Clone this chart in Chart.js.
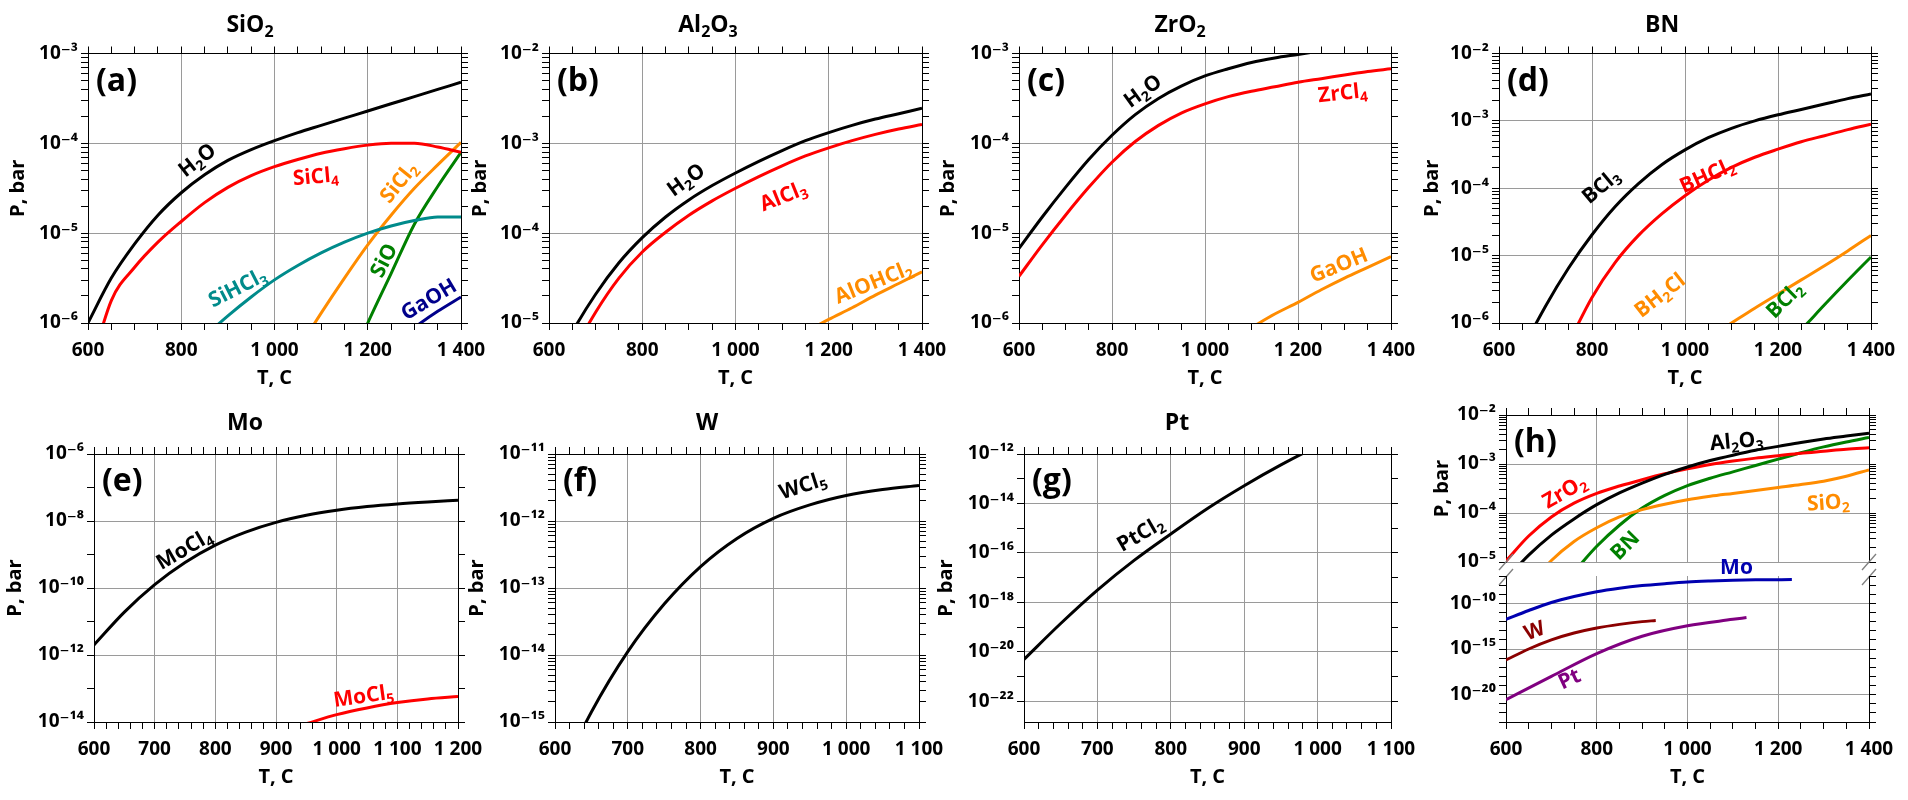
<!DOCTYPE html>
<html>
<head>
<meta charset="utf-8">
<script src="https://cdn.jsdelivr.net/npm/chart.js@4.4.1/dist/chart.umd.min.js"></script>
<style>
  html, body { margin: 0; padding: 0; background: #fff; }
  #fig { position: relative; width: 1908px; height: 800px; }
  #fig canvas { position: absolute; left: 0; top: 0; }
</style>
</head>
<body>
<div id="fig"></div>
<script>
// temperatures, C
const tempAD = [600, 650, 700, 750, 800, 850, 900, 950, 1000, 1050, 1100, 1150, 1200, 1250, 1300, 1350, 1400];
const tempE = [600, 650, 700, 750, 800, 850, 900, 950, 1000, 1050, 1100, 1150, 1200];
const tempFG = [600, 650, 700, 750, 800, 850, 900, 950, 1000, 1050, 1100];

// all pressures below are log10(P, bar)
// (a) SiO2
const sio2_H2O    = [-6.0, -5.5, -5.12, -4.8, -4.55, -4.35, -4.19, -4.07, -3.97, -3.88, -3.8, -3.72, -3.64, -3.56, -3.48, -3.4, -3.32];
const sio2_SiCl4  = [-6.6, -5.75, -5.38, -5.1, -4.87, -4.66, -4.49, -4.36, -4.26, -4.18, -4.11, -4.06, -4.02, -4.0, -4.0, -4.04, -4.1];
const sio2_SiHCl3 = [null, null, null, null, null, -6.15, -5.92, -5.71, -5.52, -5.36, -5.22, -5.1, -5.0, -4.92, -4.86, -4.82, -4.82];
const sio2_SiCl2  = [null, null, null, null, null, null, null, null, null, -6.3, -5.89, -5.5, -5.13, -4.8, -4.5, -4.24, -3.99];
const sio2_SiO    = [null, null, null, null, null, null, null, null, null, null, null, -6.6, -6.0, -5.45, -4.9, -4.48, -4.1];
const sio2_GaOH   = [null, null, null, null, null, null, null, null, null, null, null, null, null, -6.25, -6.05, -5.87, -5.71];

// (b) Al2O3
const al2o3_H2O     = [-5.6, -5.1, -4.68, -4.33, -4.05, -3.82, -3.63, -3.47, -3.33, -3.2, -3.08, -2.97, -2.88, -2.8, -2.73, -2.67, -2.61];
const al2o3_AlCl3   = [-5.95, -5.35, -4.88, -4.5, -4.21, -3.99, -3.8, -3.64, -3.5, -3.37, -3.25, -3.14, -3.05, -2.97, -2.9, -2.84, -2.79];
const al2o3_AlOHCl2 = [null, null, null, null, null, null, null, null, null, null, null, -5.1, -4.96, -4.83, -4.69, -4.56, -4.43];

// (c) ZrO2
const zro2_H2O   = [-5.17, -4.82, -4.49, -4.18, -3.91, -3.68, -3.5, -3.36, -3.25, -3.17, -3.1, -3.05, -3.01, -2.97, -2.93, -2.9, -2.87];
const zro2_ZrCl4 = [-5.48, -5.13, -4.8, -4.49, -4.21, -3.98, -3.8, -3.66, -3.56, -3.48, -3.42, -3.37, -3.32, -3.28, -3.24, -3.2, -3.17];
const zro2_GaOH  = [null, null, null, null, null, null, null, null, null, -6.2, -6.05, -5.9, -5.77, -5.63, -5.5, -5.38, -5.26];

// (d) BN
const bn_BCl3  = [-7.1, -6.4, -5.75, -5.18, -4.69, -4.27, -3.93, -3.65, -3.43, -3.25, -3.11, -3.0, -2.91, -2.83, -2.75, -2.67, -2.6];
const bn_BHCl2 = [null, null, -7.05, -6.3, -5.62, -5.1, -4.7, -4.38, -4.11, -3.88, -3.69, -3.54, -3.42, -3.31, -3.22, -3.13, -3.05];
const bn_BH2Cl = [null, null, null, null, null, null, null, null, null, -6.22, -6.0, -5.78, -5.57, -5.36, -5.15, -4.93, -4.7];
const bn_BCl2  = [null, null, null, null, null, null, null, null, null, null, null, null, -6.45, -6.1, -5.73, -5.37, -5.02];

// (e) Mo, (f) W, (g) Pt
const mo_MoCl4 = [-11.7, -10.72, -9.9, -9.24, -8.72, -8.33, -8.04, -7.83, -7.68, -7.57, -7.49, -7.43, -7.38];
const mo_MoCl5 = [null, null, null, null, null, null, null, -14.05, -13.78, -13.58, -13.42, -13.31, -13.24];
const w_WCl5   = [-15.95, -14.85, -13.95, -13.24, -12.68, -12.26, -11.96, -11.76, -11.62, -11.53, -11.47];
const pt_PtCl2 = [-20.3, -18.85, -17.5, -16.3, -15.23, -14.2, -13.28, -12.44, -11.68, -11.0, -10.4];

// (h) totals
const tot_Al2O3 = [-5.35, -4.86, -4.45, -4.12, -3.83, -3.59, -3.39, -3.21, -3.06, -2.93, -2.82, -2.72, -2.64, -2.56, -2.49, -2.43, -2.37];
const tot_ZrO2  = [-4.98, -4.47, -4.08, -3.8, -3.6, -3.45, -3.32, -3.2, -3.1, -3.01, -2.94, -2.88, -2.83, -2.78, -2.74, -2.7, -2.67];
const tot_BN    = [null, null, null, -5.2, -4.68, -4.25, -3.9, -3.64, -3.44, -3.29, -3.16, -3.03, -2.9, -2.77, -2.65, -2.55, -2.46];
const tot_SiO2  = [null, -5.5, -4.97, -4.58, -4.3, -4.08, -3.93, -3.82, -3.73, -3.66, -3.6, -3.54, -3.48, -3.42, -3.35, -3.25, -3.12];
const tempMo = [600, 650, 700, 750, 800, 850, 900, 950, 1000, 1050, 1100, 1150, 1200, 1230];
const tot_Mo = [-11.75, -10.78, -9.9, -9.25, -8.72, -8.34, -8.05, -7.84, -7.66, -7.55, -7.47, -7.42, -7.4, -7.39];
const tempW = [600, 650, 700, 750, 800, 850, 900, 930];
const tot_W = [-16.2, -15.0, -14.0, -13.25, -12.7, -12.3, -12.0, -11.88];
const tempPt = [600, 700, 800, 900, 1000, 1100, 1130];
const tot_Pt = [-20.55, -18.0, -15.5, -13.6, -12.45, -11.75, -11.55];

// tick labels
const xMajor200 = [600, 800, 1000, 1200, 1400];
const xMajorE = [600, 700, 800, 900, 1000, 1100, 1200];
const xMajorFG = [600, 700, 800, 900, 1000, 1100];
const yMajA = [-6, -5, -4, -3];
const yMajB = [-5, -4, -3, -2];
const yMajC = [-6, -5, -4, -3];
const yMajD = [-6, -5, -4, -3, -2];
const yMajE = [-14, -12, -10, -8, -6];
const yMajF = [-15, -14, -13, -12, -11];
const yMajG = [-22, -20, -18, -16, -14, -12];
const yMajHU = [-5, -4, -3, -2];
const yMajHL = [-20, -15, -10];

const W = 1908, H = 800;
const FONT = "'Open Sans', 'DejaVu Sans', sans-serif";
const GRID = '#9a9a9a';
const SUP = { '-': '\u207B', '0': '\u2070', '1': '\u00B9', '2': '\u00B2', '3': '\u00B3', '4': '\u2074',
              '5': '\u2075', '6': '\u2076', '7': '\u2077', '8': '\u2078', '9': '\u2079' };
const sup = n => String(n).split('').map(c => SUP[c]).join('');
const fmtT = v => v >= 1000 ? Math.floor(v / 1000) + ' ' + String(v % 1000).padStart(3, '0') : String(v);
const isMajExp = (v, exps) => exps.some(e => Math.abs(Math.log10(v) - e) < 1e-6);
const pts = (T, lg) => T.map((t, i) => lg[i] == null ? null : { x: t, y: Math.pow(10, lg[i]) }).filter(Boolean);

function xTicks(min, max, step) {
  const a = [];
  for (let v = min; v <= max; v += step) a.push({ value: v });
  return a;
}
function yTicks(lo, hi, mode) {
  const a = [];
  const ks = mode === 'sub' ? [1, 2, 3, 4, 5, 6, 7, 8, 9] : [1];
  for (let e = Math.floor(lo); e <= Math.ceil(hi); e++) {
    ks.forEach(k => {
      const v = k * Math.pow(10, e), l = Math.log10(v);
      if (l >= lo - 1e-9 && l <= hi + 1e-9) a.push({ value: v });
    });
  }
  return a;
}
const zeroPad = s => { s.paddingLeft = s.paddingRight = s.paddingTop = s.paddingBottom = 0; };

function richText(ctx, text, cx, cy, size, color) {
  const parts = text.split(/(_\d)/).filter(Boolean)
    .map(s => s[0] === '_' ? { t: s.slice(1), sub: true } : { t: s, sub: false });
  const fN = 'bold ' + size + 'px ' + FONT, fS = 'bold ' + Math.round(size * 0.68) + 'px ' + FONT;
  let w = 0;
  parts.forEach(q => { ctx.font = q.sub ? fS : fN; q.w = ctx.measureText(q.t).width; w += q.w; });
  let x = cx - w / 2;
  const base = cy + size * 0.36;
  ctx.fillStyle = color; ctx.textAlign = 'left'; ctx.textBaseline = 'alphabetic';
  parts.forEach(q => {
    ctx.font = q.sub ? fS : fN;
    ctx.fillText(q.t, x, q.sub ? base + size * 0.2 : base);
    x += q.w;
  });
}

function makeDecor(p) {
  return {
    id: 'decor',
    afterDraw(chart) {
      const ctx = chart.ctx, a = chart.chartArea, sx = chart.scales.x, sy = chart.scales.y;
      ctx.save();
      if (p.title) richText(ctx, p.title, p.titleAt[0], p.titleAt[1], 23, '#000');
      if (p.letter) {
        ctx.font = 'bold 32px ' + FONT; ctx.fillStyle = '#000';
        ctx.textAlign = 'left'; ctx.textBaseline = 'middle';
        ctx.fillText(p.letter, a.left + 8, a.top + 28);
      }
      (p.labels || []).forEach(l => {
        ctx.save();
        ctx.translate(sx.getPixelForValue(l.T), sy.getPixelForValue(Math.pow(10, l.lg)));
        ctx.rotate(l.rot * Math.PI / 180);
        richText(ctx, l.text, 0, 0, 21, l.color);
        ctx.restore();
      });
      if (p.breaks) {
        ctx.strokeStyle = '#808080'; ctx.lineWidth = 1.3;
        [a.left, a.right].forEach(bx => [a.bottom, a.bottom + 15].forEach(by => {
          ctx.beginPath(); ctx.moveTo(bx - 7, by + 8); ctx.lineTo(bx + 7, by - 8); ctx.stroke();
        }));
      }
      ctx.restore();
    }
  };
}

const tickFont = { family: FONT, size: 19, weight: 'bold' };
const titleFont = { family: FONT, size: 20, weight: 'bold' };

function xScale(p, pos, main) {
  const labelled = main && pos === 'bottom';
  return {
    type: 'linear', position: pos, min: p.x.min, max: p.x.max,
    afterBuildTicks: s => { s.ticks = xTicks(p.x.min, p.x.max, p.x.step); },
    afterFit: s => { s.height = labelled ? 67 : 8; zeroPad(s); },
    ticks: { display: labelled, autoSkip: false, maxRotation: 0, padding: 9, color: '#000', font: tickFont,
             callback: v => p.x.major.includes(v) ? fmtT(v) : '' },
    grid: { drawOnChartArea: main, tickLength: 7, lineWidth: 1, tickColor: '#000',
            color: c => (c.tick && p.x.major.includes(c.tick.value)) ? GRID : 'rgba(0,0,0,0)' },
    border: { color: '#000', width: 1 },
    title: { display: labelled, text: 'T, C', padding: 0, color: '#000', font: titleFont }
  };
}

function yWidth(p) { return p.yOff ? p.yOff + 12 : 80; }

function yScale(p, pos, main) {
  return {
    type: 'logarithmic', position: pos, min: Math.pow(10, p.y.lo), max: Math.pow(10, p.y.hi),
    afterBuildTicks: s => { s.ticks = yTicks(p.y.lo, p.y.hi, p.y.minor); },
    afterFit: s => { s.width = main ? yWidth(p) : 8; zeroPad(s); },
    ticks: { display: main, autoSkip: false, padding: 3, color: '#000', font: tickFont,
             callback: v => isMajExp(v, p.y.major) ? '10' + sup(Math.round(Math.log10(v))) : '' },
    grid: { drawOnChartArea: main, tickLength: 7, lineWidth: 1, tickColor: '#000',
            color: c => (c.tick && isMajExp(c.tick.value, p.y.major)) ? GRID : 'rgba(0,0,0,0)' },
    border: { color: '#000', width: 1 },
    title: { display: main && !!p.yOff, text: 'P, bar', padding: 0, color: '#000', font: titleFont }
  };
}

function panel(p) {
  const cv = document.createElement('canvas');
  cv.width = W; cv.height = H;
  document.getElementById('fig').appendChild(cv);
  const hasTop = p.top !== false, hasBottom = p.bottom !== false;
  const L = yWidth(p);
  const scales = {};
  scales.x = xScale(p, hasBottom ? 'bottom' : 'top', true);
  if (hasTop && hasBottom) scales.x2 = xScale(p, 'top', false);
  scales.y = yScale(p, 'left', true);
  scales.y2 = yScale(p, 'right', false);
  const b = p.box;
  new Chart(cv, {
    type: 'line',
    data: {
      datasets: p.series.map(s => ({
        data: pts(s.T, s.v), borderColor: s.c, borderWidth: 3, pointRadius: 0, fill: false,
        cubicInterpolationMode: 'monotone', capBezierPoints: false, xAxisID: 'x', yAxisID: 'y'
      }))
    },
    options: {
      responsive: false, animation: false, events: [],
      layout: { padding: { left: b.x0 - L, right: W - b.x1 - 8,
                           top: b.y0 - (hasTop ? 8 : 0), bottom: H - b.y1 - (hasBottom ? 67 : 0) } },
      plugins: { legend: { display: false }, tooltip: { enabled: false }, title: { display: false } },
      scales
    },
    plugins: [makeDecor(p)]
  });
}

const K = '#000000', RED = '#ff0000', ORG = '#ff8c00', TEAL = '#008b8b', GRN = '#008000', NAVY = '#00008b';

panel({
  box: { x0: 88, x1: 461, y0: 53.5, y1: 323 },
  x: { min: 600, max: 1400, step: 50, major: xMajor200 },
  y: { lo: -6, hi: -3, major: yMajA, minor: 'sub' }, yOff: 70,
  title: 'SiO_2', titleAt: [250, 24], letter: '(a)',
  series: [
    { T: tempAD, v: sio2_H2O, c: K }, { T: tempAD, v: sio2_SiCl4, c: RED },
    { T: tempAD, v: sio2_SiHCl3, c: TEAL }, { T: tempAD, v: sio2_SiCl2, c: ORG },
    { T: tempAD, v: sio2_SiO, c: GRN }, { T: tempAD, v: sio2_GaOH, c: NAVY }
  ],
  labels: [
    { text: 'H_2O', T: 833, lg: -4.18, rot: -38, color: K },
    { text: 'SiCl_4', T: 1088, lg: -4.36, rot: -5, color: RED },
    { text: 'SiCl_2', T: 1265, lg: -4.43, rot: -51, color: ORG },
    { text: 'SiHCl_3', T: 920, lg: -5.6, rot: -27, color: TEAL },
    { text: 'SiO', T: 1233, lg: -5.3, rot: -63, color: GRN },
    { text: 'GaOH', T: 1330, lg: -5.73, rot: -31, color: NAVY }
  ]
});

panel({
  box: { x0: 549, x1: 922, y0: 53.5, y1: 323 },
  x: { min: 600, max: 1400, step: 50, major: xMajor200 },
  y: { lo: -5, hi: -2, major: yMajB, minor: 'sub' }, yOff: 69,
  title: 'Al_2O_3', titleAt: [708, 24], letter: '(b)',
  series: [
    { T: tempAD, v: al2o3_H2O, c: K }, { T: tempAD, v: al2o3_AlCl3, c: RED },
    { T: tempAD, v: al2o3_AlOHCl2, c: ORG }
  ],
  labels: [
    { text: 'H_2O', T: 893, lg: -3.4, rot: -36, color: K },
    { text: 'AlCl_3', T: 1102, lg: -3.58, rot: -22, color: RED },
    { text: 'AlOHCl_2', T: 1295, lg: -4.54, rot: -22, color: ORG }
  ]
});

panel({
  box: { x0: 1019, x1: 1391, y0: 53.5, y1: 323 },
  x: { min: 600, max: 1400, step: 50, major: xMajor200 },
  y: { lo: -6, hi: -3, major: yMajC, minor: 'sub' }, yOff: 71,
  title: 'ZrO_2', titleAt: [1180, 24], letter: '(c)',
  series: [
    { T: tempAD, v: zro2_H2O, c: K }, { T: tempAD, v: zro2_ZrCl4, c: RED },
    { T: tempAD, v: zro2_GaOH, c: ORG }
  ],
  labels: [
    { text: 'H_2O', T: 865, lg: -3.41, rot: -36, color: K },
    { text: 'ZrCl_4', T: 1296, lg: -3.43, rot: -6, color: RED },
    { text: 'GaOH', T: 1287, lg: -5.35, rot: -22, color: ORG }
  ]
});

panel({
  box: { x0: 1499, x1: 1871, y0: 53.5, y1: 323 },
  x: { min: 600, max: 1400, step: 50, major: xMajor200 },
  y: { lo: -6, hi: -2, major: yMajD, minor: 'sub' }, yOff: 67,
  title: 'BN', titleAt: [1662, 24], letter: '(d)',
  series: [
    { T: tempAD, v: bn_BCl3, c: K }, { T: tempAD, v: bn_BHCl2, c: RED },
    { T: tempAD, v: bn_BH2Cl, c: ORG }, { T: tempAD, v: bn_BCl2, c: GRN }
  ],
  labels: [
    { text: 'BCl_3', T: 818, lg: -3.96, rot: -40, color: K },
    { text: 'BHCl_2', T: 1047, lg: -3.8, rot: -24, color: RED },
    { text: 'BH_2Cl', T: 945, lg: -5.58, rot: -38, color: ORG },
    { text: 'BCl_2', T: 1213, lg: -5.65, rot: -45, color: GRN }
  ]
});

panel({
  box: { x0: 94, x1: 458, y0: 454, y1: 722 },
  x: { min: 600, max: 1200, step: 20, major: xMajorE },
  y: { lo: -14, hi: -6, major: yMajE, minor: 'decade' }, yOff: 79,
  title: 'Mo', titleAt: [245, 422], letter: '(e)',
  series: [ { T: tempE, v: mo_MoCl4, c: K }, { T: tempE, v: mo_MoCl5, c: RED } ],
  labels: [
    { text: 'MoCl_4', T: 748, lg: -8.82, rot: -30, color: K },
    { text: 'MoCl_5', T: 1044, lg: -13.2, rot: -8, color: RED }
  ]
});

panel({
  box: { x0: 555, x1: 919, y0: 454, y1: 722 },
  x: { min: 600, max: 1100, step: 20, major: xMajorFG },
  y: { lo: -15, hi: -11, major: yMajF, minor: 'sub' }, yOff: 78,
  title: 'W', titleAt: [707, 422], letter: '(f)',
  series: [ { T: tempFG, v: w_WCl5, c: K } ],
  labels: [ { text: 'WCl_5', T: 940, lg: -11.46, rot: -18, color: K } ]
});

panel({
  box: { x0: 1024, x1: 1391, y0: 454, y1: 722 },
  x: { min: 600, max: 1100, step: 20, major: xMajorFG },
  y: { lo: -22.83, hi: -12, major: yMajG, minor: 'decade' }, yOff: 78,
  title: 'Pt', titleAt: [1177, 422], letter: '(g)',
  series: [ { T: tempFG, v: pt_PtCl2, c: K } ],
  labels: [ { text: 'PtCl_2', T: 758, lg: -15.2, rot: -30, color: K } ]
});

// (h) upper part
panel({
  box: { x0: 1506, x1: 1869, y0: 415, y1: 562 },
  x: { min: 600, max: 1400, step: 50, major: xMajor200 },
  y: { lo: -5, hi: -2, major: yMajHU, minor: 'sub' }, yOff: 64,
  bottom: false, letter: '(h)', breaks: true,
  series: [
    { T: tempAD, v: tot_Al2O3, c: K }, { T: tempAD, v: tot_ZrO2, c: RED },
    { T: tempAD, v: tot_SiO2, c: ORG }, { T: tempAD, v: tot_BN, c: GRN }
  ],
  labels: [
    { text: 'Al_2O_3', T: 1108, lg: -2.52, rot: -5, color: K },
    { text: 'ZrO_2', T: 728, lg: -3.55, rot: -30, color: RED },
    { text: 'SiO_2', T: 1310, lg: -3.77, rot: -4, color: ORG },
    { text: 'BN', T: 861, lg: -4.65, rot: -45, color: GRN }
  ]
});

// (h) lower part
panel({
  box: { x0: 1506, x1: 1869, y0: 576, y1: 722 },
  x: { min: 600, max: 1400, step: 50, major: xMajor200 },
  y: { lo: -23, hi: -7, major: yMajHL, minor: 'decade' }, yOff: 0,
  top: false,
  series: [
    { T: tempMo, v: tot_Mo, c: '#0000b0' }, { T: tempW, v: tot_W, c: '#8b0000' },
    { T: tempPt, v: tot_Pt, c: '#800080' }
  ],
  labels: [
    { text: 'Mo', T: 1108, lg: -5.98, rot: 0, color: '#0000b0' },
    { text: 'W', T: 662, lg: -12.92, rot: -20, color: '#8b0000' },
    { text: 'Pt', T: 739, lg: -18.21, rot: -25, color: '#800080' }
  ]
});
</script>
</body>
</html>
